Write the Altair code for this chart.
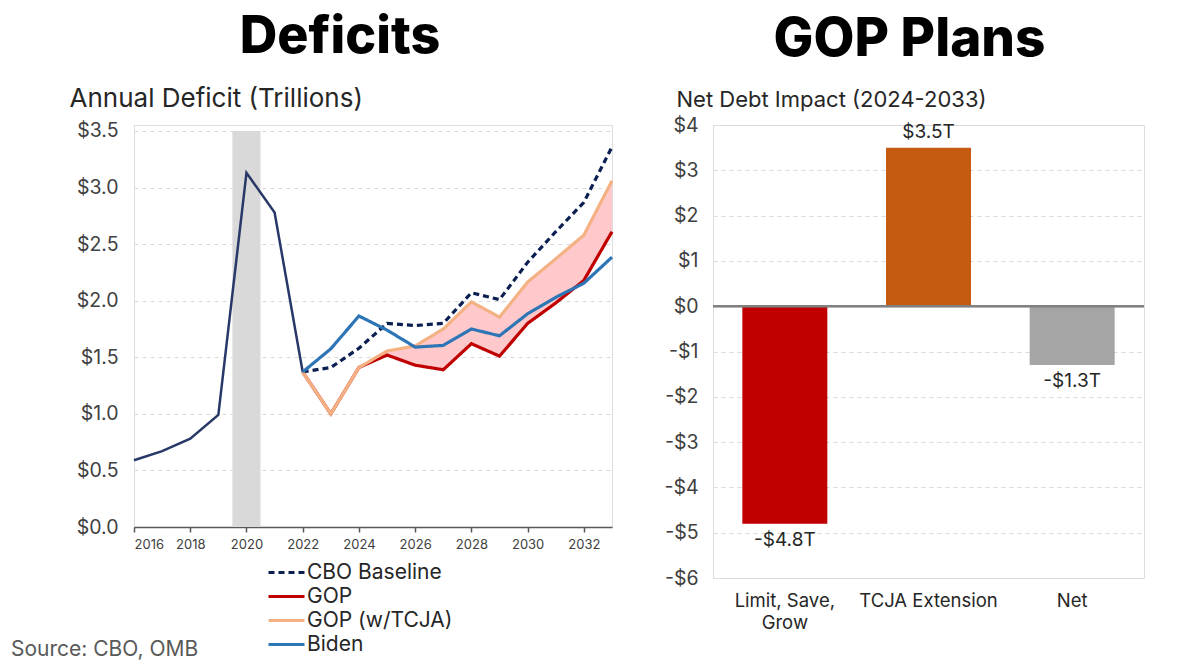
import altair as alt
import pandas as pd

# ---------------- data ----------------
hist_years = [2016, 2017, 2018, 2019, 2020, 2021, 2022]
hist_vals = [0.59, 0.67, 0.78, 0.99, 3.13, 2.78, 1.37]

proj_years = [2022, 2023, 2024, 2025, 2026, 2027, 2028, 2029, 2030, 2031, 2032, 2033]
cbo_vals = [1.37, 1.41, 1.58, 1.80, 1.78, 1.80, 2.07, 2.01, 2.34, 2.61, 2.87, 3.36]
gop_vals = [1.37, 1.00, 1.41, 1.52, 1.43, 1.39, 1.62, 1.51, 1.80, 1.98, 2.18, 2.61]
tcja_vals = [1.37, 1.00, 1.41, 1.555, 1.60, 1.75, 1.99, 1.855, 2.165, 2.37, 2.58, 3.06]
biden_vals = [1.37, 1.575, 1.865, 1.74, 1.59, 1.605, 1.75, 1.69, 1.885, 2.03, 2.155, 2.385]

series_names = ["CBO Baseline", "GOP", "GOP (w/TCJA)", "Biden"]
series_colors = ["#0B1F51", "#C00000", "#F4B183", "#2E75B6"]
series_dash = [[6, 4], [1, 0], [1, 0], [1, 0]]

shade_start = 2024
recession_span = [2019.5, 2020.5]

x_ticks = [2016, 2018, 2020, 2022, 2024, 2026, 2028, 2030, 2032]
y_ticks_left = [0, 0.5, 1.0, 1.5, 2.0, 2.5, 3.0, 3.5]

bar_cats = ["Limit, Save, Grow", "TCJA Extension", "Net"]
bar_vals = [-4.8, 3.5, -1.3]
bar_labels = ["-$4.8T", "$3.5T", "-$1.3T"]
bar_colors = ["#C00000", "#C55A11", "#A5A5A5"]
y_ticks_right = [-6, -5, -4, -3, -2, -1, 0, 1, 2, 3, 4]

FONT = "Inter"
TXT = "#262626"

# ---------------- frames ----------------
hist_df = pd.DataFrame({"year": hist_years, "value": hist_vals})
proj_map = {"CBO Baseline": cbo_vals, "GOP": gop_vals, "GOP (w/TCJA)": tcja_vals, "Biden": biden_vals}
proj_df = pd.DataFrame([
    {"year": y, "series": s, "value": v}
    for s, vals in proj_map.items() for y, v in zip(proj_years, vals)
])
area_df = pd.DataFrame({"year": proj_years, "low": gop_vals, "high": tcja_vals})
area_df = area_df[area_df["year"] >= shade_start]
rec_df = pd.DataFrame({"start": [recession_span[0]], "end": [recession_span[1]],
                       "bottom": [0.0], "top": [3.5]})
src_df = pd.DataFrame({"t": ["Source: CBO, OMB"]})

# ---------------- left chart ----------------
x_axis = alt.Axis(values=x_ticks, format="d", title=None, grid=False, domainColor="#595959",
                  domainWidth=1.5, tickColor="#595959", tickWidth=1.5, tickSize=5,
                  labelFontSize=13, labelColor="#404040", labelPadding=6, labelFont=FONT)
x_scale = alt.Scale(domain=[2016, 2033], nice=False, zero=False)
y_title = "Annual Deficit (Trillions)"
y_axis = alt.Axis(values=y_ticks_left, labelExpr="'$' + format(datum.value, '.1f')",
                  title=y_title, titleAngle=0, titleX=-65, titleY=-19, titleAlign="left",
                  titleBaseline="alphabetic", titleFontSize=26, titleFontWeight="normal",
                  titleColor=TXT, titleFont=FONT,
                  grid=True, gridDash=[4, 4], gridColor="#D9D9D9", domain=False, ticks=False,
                  labelFontSize=19.5, labelPadding=16, labelColor="#404040", labelFont=FONT)
# the plot area has 6px of headroom above the $3.5 line
y_scale = alt.Scale(domain=[0, 3.553], nice=False)

def X(field):
    return alt.X(field, type="quantitative", scale=x_scale, axis=x_axis)

def Y(field):
    return alt.Y(field, type="quantitative", scale=y_scale, axis=y_axis, title=y_title)

legend_opts = dict(title=None, orient="none", legendX=139, legendY=434,
                   symbolType="M-1.5,0H1.5", symbolSize=576, symbolStrokeWidth=3,
                   labelFontSize=21, labelFont=FONT, labelColor=TXT, labelOffset=7,
                   rowPadding=0, padding=0, labelLimit=300)
color_enc = alt.Color("series:N", scale=alt.Scale(domain=series_names, range=series_colors),
                      legend=alt.Legend(**legend_opts))
dash_enc = alt.StrokeDash("series:N", scale=alt.Scale(domain=series_names, range=series_dash),
                          legend=alt.Legend(**legend_opts))

band = alt.Chart(rec_df).mark_rect(color="#D9D9D9").encode(
    x=X("start"), x2="end", y=Y("bottom"), y2="top")
shade = alt.Chart(area_df).mark_area(color="#FFC9CC", opacity=1).encode(
    x=X("year"), y=Y("low"), y2="high")
hist_line = alt.Chart(hist_df).mark_line(color="#283868", strokeWidth=2.5).encode(
    x=X("year"), y=Y("value"))

def series_layer(name):
    return alt.Chart(proj_df).transform_filter(alt.datum.series == name).mark_line(
        strokeWidth=3.2).encode(x=X("year"), y=Y("value"), color=color_enc, strokeDash=dash_enc)

src = alt.Chart(src_df).mark_text(align="left", baseline="alphabetic", fontSize=21,
                                  font=FONT, color="#595959").encode(
    x=alt.value(-123), y=alt.value(531), text="t:N")

left = alt.layer(
    band, shade, hist_line,
    series_layer("CBO Baseline"), series_layer("GOP"), series_layer("GOP (w/TCJA)"),
    series_layer("Biden"), src
).properties(
    width=478, height=402,
    title=alt.TitleParams("Deficits", fontSize=52, fontWeight=800, font=FONT, color="black",
                          anchor="middle", frame="group", dx=-33, offset=21)
)

# ---------------- right chart ----------------
bar_df = pd.DataFrame({"cat": bar_cats, "value": bar_vals, "label": bar_labels,
                       "color": bar_colors})

rx = alt.X("cat:N", sort=bar_cats, scale=alt.Scale(paddingInner=0, paddingOuter=0),
           axis=alt.Axis(title=None, labelAngle=0, ticks=False, domain=False,
                         labelExpr="datum.value == 'Limit, Save, Grow' ? ['Limit, Save,', 'Grow'] : datum.label",
                         labelFontSize=18.5, labelFont=FONT, labelColor=TXT, labelPadding=13,
                         labelLineHeight=22))
r_title = "Net Debt Impact (2024-2033)"
ry_axis = alt.Axis(values=y_ticks_right,
                   labelExpr="datum.value < 0 ? '-$' + abs(datum.value) : '$' + datum.value",
                   title=r_title, titleAngle=0, titleX=-37, titleY=-19, titleAlign="left",
                   titleBaseline="alphabetic", titleFontSize=22, titleFontWeight="normal",
                   titleColor=TXT, titleFont=FONT,
                   grid=True, gridDash=[4, 4], gridColor="#D9D9D9", domain=False, ticks=False,
                   labelFontSize=19.5, labelPadding=15, labelColor="#404040", labelFont=FONT)
ry_scale = alt.Scale(domain=[-6, 4], nice=False)

def RY(field):
    return alt.Y(field, type="quantitative", scale=ry_scale, axis=ry_axis, title=r_title)

bars = alt.Chart(bar_df).mark_bar(size=85).encode(
    x=rx, y=RY("value"), y2=alt.datum(0), color=alt.Color("color:N", scale=None))
zero = alt.Chart(bar_df).mark_rule(color="#808080", strokeWidth=2).encode(
    y=RY("zero:Q")).transform_calculate(zero="0")
pos_lbl = alt.Chart(bar_df).transform_filter(alt.datum.value >= 0).mark_text(
    baseline="bottom", dy=-6, fontSize=19, font=FONT, color=TXT).encode(
    x=rx, y=RY("value"), text="label:N")
neg_lbl = alt.Chart(bar_df).transform_filter(alt.datum.value < 0).mark_text(
    baseline="top", dy=7, fontSize=19, font=FONT, color=TXT).encode(
    x=rx, y=RY("value"), text="label:N")

right = alt.layer(bars, zero, pos_lbl, neg_lbl).properties(
    width=431, height=453,
    title=alt.TitleParams("GOP Plans", fontSize=53, fontWeight=800, font=FONT, color="black",
                          anchor="middle", frame="group", dx=-19, offset=21)
)

chart = alt.hconcat(left, right, spacing=44).properties(
    padding={"left": 10, "top": 10, "right": 5, "bottom": 2}
).configure_view(strokeWidth=0, stroke="transparent").configure(font=FONT)

chart.save("out.html", embed_options={"renderer": "svg", "actions": False})
